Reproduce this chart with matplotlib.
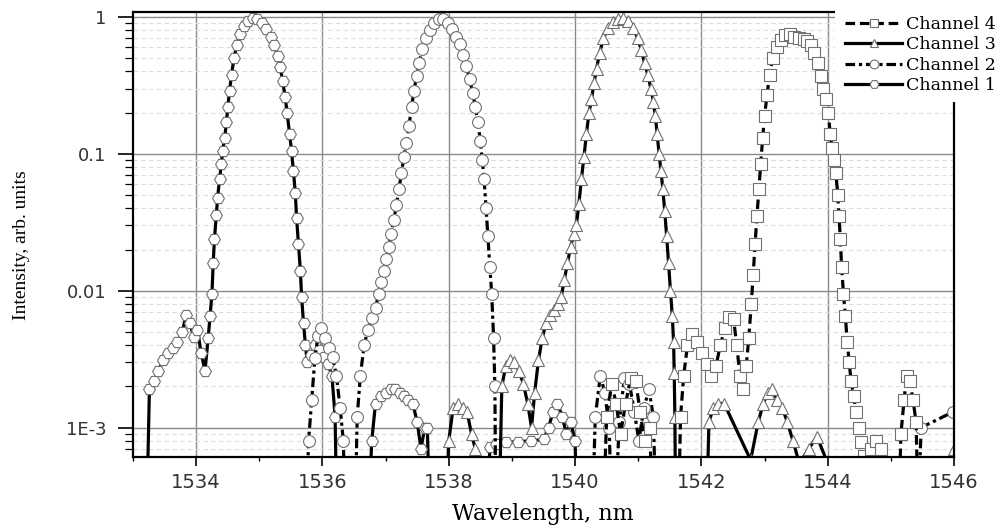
import matplotlib
matplotlib.use("Agg")
import matplotlib.pyplot as plt
from matplotlib.patches import Rectangle
from matplotlib.ticker import FixedLocator, FixedFormatter, LogLocator, NullFormatter

# ---- data (wavelength nm, intensity arb. units) ----
# values of 1e-4 mark points that fall below the plotted floor

ch1_wl = [1533.20, 1533.26, 1533.33, 1533.40, 1533.48, 1533.56, 1533.63, 1533.70,
          1533.78, 1533.84, 1533.90, 1533.96, 1534.02, 1534.08, 1534.14, 1534.19,
          1534.22, 1534.25, 1534.27, 1534.29, 1534.32, 1534.34, 1534.37, 1534.40,
          1534.42, 1534.45, 1534.48, 1534.50, 1534.53, 1534.56, 1534.60, 1534.64,
          1534.69, 1534.75, 1534.82, 1534.90, 1534.97, 1535.04, 1535.11, 1535.18,
          1535.24, 1535.29, 1535.33, 1535.37, 1535.41, 1535.44, 1535.48, 1535.51,
          1535.54, 1535.57, 1535.59, 1535.62, 1535.65, 1535.67, 1535.70, 1535.73,
          1535.76, 1535.82, 1535.88, 1535.95, 1536.02, 1536.09, 1536.15, 1536.20,
          1536.24, 1536.70, 1536.78, 1536.84, 1536.92, 1537.00, 1537.08, 1537.15,
          1537.22, 1537.29, 1537.36, 1537.43, 1537.50, 1537.56, 1537.62, 1537.66,
          1537.72, 1538.60, 1538.65, 1538.75, 1538.90, 1539.10, 1539.30, 1539.50,
          1539.58, 1539.65, 1539.72, 1539.80, 1539.86, 1539.93, 1540.00, 1540.05]
ch1_int = [1e-4, 0.0019, 0.0022, 0.0026, 0.0031, 0.0035, 0.0038, 0.0042,
           0.0050, 0.0066, 0.0058, 0.0046, 0.0052, 0.0035, 0.0026, 0.0045,
           0.0065, 0.0095, 0.016, 0.024, 0.036, 0.048, 0.065, 0.085,
           0.105, 0.13, 0.17, 0.22, 0.29, 0.38, 0.50, 0.62,
           0.75, 0.86, 0.94, 0.99, 0.97, 0.91, 0.82, 0.72,
           0.62, 0.52, 0.43, 0.34, 0.26, 0.20, 0.14, 0.105,
           0.075, 0.052, 0.034, 0.022, 0.014, 0.0090, 0.0058, 0.0040,
           0.0030, 0.0034, 0.0040, 0.0037, 0.0033, 0.0029, 0.0024, 0.0012,
           1e-4, 1e-4, 0.0008, 0.0015, 0.0017, 0.0018, 0.0019, 0.0019,
           0.0018, 0.0017, 0.0016, 0.0015, 0.0011, 0.0007, 0.0010, 0.0010,
           1e-4, 1e-4, 0.00072, 0.00076, 0.00078, 0.00079, 0.00080, 0.00082,
           0.0010, 0.0013, 0.0015, 0.0012, 0.0009, 0.0011, 0.0008, 1e-4]

ch2_wl = [1535.72, 1535.78, 1535.83, 1535.88, 1535.93, 1535.98, 1536.04, 1536.10,
          1536.16, 1536.22, 1536.28, 1536.33, 1536.38, 1536.50, 1536.55, 1536.60,
          1536.66, 1536.72, 1536.78, 1536.84, 1536.89, 1536.93, 1536.97, 1537.01,
          1537.05, 1537.09, 1537.13, 1537.17, 1537.21, 1537.25, 1537.29, 1537.33,
          1537.37, 1537.41, 1537.45, 1537.49, 1537.53, 1537.58, 1537.64, 1537.70,
          1537.77, 1537.84, 1537.91, 1537.98, 1538.05, 1538.12, 1538.18, 1538.23,
          1538.28, 1538.33, 1538.38, 1538.42, 1538.46, 1538.50, 1538.53, 1538.56,
          1538.59, 1538.62, 1538.65, 1538.68, 1538.71, 1538.73, 1538.75, 1540.25,
          1540.32, 1540.40, 1540.47, 1540.54, 1540.60, 1540.70, 1540.78, 1540.86,
          1540.94, 1541.01, 1541.09, 1541.17, 1541.24, 1541.30, 1545.40, 1545.48,
          1545.98]
ch2_int = [1e-4, 0.0008, 0.0016, 0.0032, 0.0047, 0.0053, 0.0045, 0.0038,
           0.0033, 0.0024, 0.0014, 0.0008, 1e-4, 1e-4, 0.0012, 0.0024,
           0.0040, 0.0052, 0.0063, 0.0075, 0.0095, 0.0115, 0.014, 0.017,
           0.021, 0.026, 0.033, 0.042, 0.055, 0.072, 0.095, 0.12,
           0.16, 0.22, 0.29, 0.37, 0.46, 0.58, 0.70, 0.80,
           0.90, 0.96, 0.97, 0.91, 0.82, 0.72, 0.63, 0.53,
           0.44, 0.35, 0.28, 0.22, 0.17, 0.125, 0.09, 0.065,
           0.040, 0.025, 0.015, 0.0095, 0.0045, 0.0020, 1e-4, 1e-4,
           0.0012, 0.0024, 0.0018, 0.0010, 1e-4, 0.0011, 0.0023, 0.0021,
           0.0013, 0.0008, 0.0014, 0.0019, 0.0012, 1e-4, 1e-4, 0.0010,
           0.0013]

ch3_wl = [1537.92, 1538.00, 1538.07, 1538.15, 1538.22, 1538.29, 1538.36, 1538.42,
          1538.48, 1538.78, 1538.84, 1538.90, 1538.97, 1539.04, 1539.11, 1539.18,
          1539.25, 1539.31, 1539.36, 1539.42, 1539.48, 1539.54, 1539.60, 1539.67,
          1539.73, 1539.78, 1539.83, 1539.88, 1539.93, 1539.98, 1540.02, 1540.06,
          1540.10, 1540.14, 1540.18, 1540.22, 1540.26, 1540.30, 1540.34, 1540.39,
          1540.45, 1540.52, 1540.60, 1540.68, 1540.76, 1540.84, 1540.92, 1540.99,
          1541.05, 1541.10, 1541.15, 1541.20, 1541.24, 1541.27, 1541.30, 1541.33,
          1541.36, 1541.39, 1541.42, 1541.45, 1541.48, 1541.51, 1541.54, 1541.56,
          1541.57, 1541.58, 1541.60, 1542.06, 1542.12, 1542.19, 1542.27, 1542.36,
          1542.78, 1542.90, 1542.98, 1543.05, 1543.12, 1543.20, 1543.28, 1543.36,
          1543.45, 1543.55, 1543.70, 1543.83, 1544.00, 1545.92, 1546.00]
ch3_int = [1e-4, 0.0008, 0.0014, 0.0015, 0.0014, 0.0013, 0.0009, 0.0007,
           1e-4, 1e-4, 0.0020, 0.0028, 0.0031, 0.0030, 0.0026, 0.0021,
           0.0015, 0.0010, 0.0018, 0.0031, 0.0045, 0.0058, 0.0066, 0.0072,
           0.0080, 0.0090, 0.012, 0.016, 0.021, 0.026, 0.030, 0.043,
           0.065, 0.095, 0.14, 0.20, 0.25, 0.33, 0.42, 0.55,
           0.70, 0.83, 0.92, 0.97, 0.98, 0.93, 0.83, 0.70,
           0.57, 0.46, 0.38, 0.30, 0.24, 0.19, 0.14, 0.10,
           0.075, 0.055, 0.038, 0.025, 0.016, 0.010, 0.0065, 0.0042,
           0.0025, 0.0012, 1e-4, 1e-4, 0.0011, 0.0014, 0.0015, 0.0015,
           0.00058, 0.0011, 0.0015, 0.0018, 0.0019, 0.0016, 0.0014, 0.0011,
           0.0008, 0.00055, 0.0007, 0.00086, 0.00055, 1e-4, 0.0007]

ch4_wl = [1540.42, 1540.50, 1540.58, 1540.65, 1540.72, 1540.80, 1540.88, 1540.96,
          1541.03, 1541.10, 1541.18, 1541.26, 1541.62, 1541.67, 1541.72, 1541.78,
          1541.85, 1541.93, 1542.01, 1542.09, 1542.16, 1542.23, 1542.30, 1542.37,
          1542.44, 1542.51, 1542.56, 1542.61, 1542.66, 1542.71, 1542.75, 1542.79,
          1542.82, 1542.85, 1542.88, 1542.91, 1542.94, 1542.97, 1543.00, 1543.04,
          1543.08, 1543.13, 1543.19, 1543.26, 1543.33, 1543.40, 1543.47, 1543.55,
          1543.62, 1543.68, 1543.74, 1543.79, 1543.84, 1543.89, 1543.93, 1543.97,
          1544.01, 1544.04, 1544.07, 1544.10, 1544.13, 1544.16, 1544.18, 1544.20,
          1544.22, 1544.25, 1544.28, 1544.31, 1544.34, 1544.37, 1544.41, 1544.45,
          1544.49, 1544.53, 1544.58, 1544.62, 1544.68, 1544.76, 1544.84, 1544.92,
          1545.10, 1545.16, 1545.21, 1545.25, 1545.30, 1545.35, 1545.40, 1545.45]
ch4_int = [1e-4, 0.0012, 0.0021, 0.0015, 0.0009, 0.0015, 0.0023, 0.0022,
           0.0013, 0.0008, 0.0010, 1e-4, 1e-4, 0.0012, 0.0024, 0.0040,
           0.0048, 0.0042, 0.0035, 0.0029, 0.0024, 0.0028, 0.0040, 0.0053,
           0.0064, 0.0062, 0.0040, 0.0024, 0.0019, 0.0028, 0.0045, 0.0080,
           0.013, 0.022, 0.035, 0.055, 0.085, 0.13, 0.19, 0.27,
           0.38, 0.50, 0.60, 0.68, 0.74, 0.75, 0.72, 0.70,
           0.69, 0.67, 0.62, 0.55, 0.46, 0.37, 0.30, 0.25,
           0.20, 0.14, 0.11, 0.090, 0.072, 0.050, 0.035, 0.024,
           0.015, 0.0095, 0.0065, 0.0042, 0.0030, 0.0022, 0.0017, 0.0013,
           0.0010, 0.00078, 0.00062, 1e-4, 0.0007, 0.0008, 0.0007, 1e-4,
           1e-4, 0.0009, 0.0016, 0.0024, 0.0022, 0.0016, 0.0011, 1e-4]

x_major = [1534, 1536, 1538, 1540, 1542, 1544, 1546]
x_minor = [1533, 1535, 1537, 1539, 1541, 1543, 1545]
y_major = [1e-3, 1e-2, 1e-1, 1]
y_labels = ["1E-3", "0.01", "0.1", "1"]

W, H = 1002, 529
fig = plt.figure(figsize=(W / 100, H / 100), dpi=100)
ax = fig.add_axes([133 / W, 1 - 457 / H, (954 - 133) / W, (457 - 12) / H])

mk = dict(markerfacecolor="white", markeredgecolor="#707070", markeredgewidth=0.8,
          markersize=8.5, color="black", lw=2.3)
l1, = ax.plot(ch1_wl, ch1_int, ls="-", marker="H", label="Channel 1", **mk)
l2, = ax.plot(ch2_wl, ch2_int, ls=(0, (3, 1.2, 1, 1.2)), marker="o", label="Channel 2", **mk)
l3, = ax.plot(ch3_wl, ch3_int, ls="-", marker="^", label="Channel 3", **mk)
l4, = ax.plot(ch4_wl, ch4_int, ls=(0, (3, 1.5)), marker="s", label="Channel 4", **mk)

ax.set_yscale("log")
ax.set_xlim(1533, 1546)
ax.set_ylim(6.1e-4, 1.088)

ax.xaxis.set_major_locator(FixedLocator(x_major))
ax.xaxis.set_minor_locator(FixedLocator(x_minor))
ax.yaxis.set_major_locator(FixedLocator(y_major))
ax.yaxis.set_major_formatter(FixedFormatter(y_labels))
ax.yaxis.set_minor_locator(LogLocator(base=10, subs=range(2, 10)))
ax.yaxis.set_minor_formatter(NullFormatter())

ax.set_axisbelow(True)
ax.grid(True, which="major", color="#8a8a8a", lw=1.0)
ax.yaxis.grid(True, which="minor", color="#dcdcdc", lw=0.8, ls=(0, (4, 3)))

ax.tick_params(axis="x", which="major", direction="out", length=6.5, width=1.2,
               pad=5, labelsize=14, labelcolor="#333333")
ax.tick_params(axis="x", which="minor", direction="out", length=3, width=1.0)
ax.tick_params(axis="y", which="major", direction="out", length=11, width=1.2,
               pad=8, labelsize=13, labelcolor="#333333")
ax.tick_params(axis="y", which="minor", direction="out", length=5.5, width=0.9)
for s in ax.spines.values():
    s.set_linewidth(1.6)
    s.set_color("black")

# white block hiding the frame corner behind the legend, as in the original
fig.patches.append(Rectangle((835 / W, 1 - 102 / H), (W - 835) / W, 102 / H,
                             transform=fig.transFigure, facecolor="white",
                             edgecolor="none", zorder=3))
fig.legend(handles=[l4, l3, l2, l1], loc="upper left",
           bbox_to_anchor=(845 / W, 1 - 16 / H), frameon=False,
           prop={"family": "DejaVu Serif", "size": 12.5},
           handlelength=3.3, handletextpad=0.2, labelspacing=0.2,
           borderpad=0, borderaxespad=0, markerscale=0.75)

fig.text(22 / W, 1 - 245 / H, "Intensity, arb. units", rotation=90,
         ha="center", va="center", family="Liberation Serif", size=14)
fig.text(543 / W, 1 - 514 / H, "Wavelength, nm", ha="center", va="center",
         family="DejaVu Serif", size=16)

fig.savefig("out.png", dpi=100)
